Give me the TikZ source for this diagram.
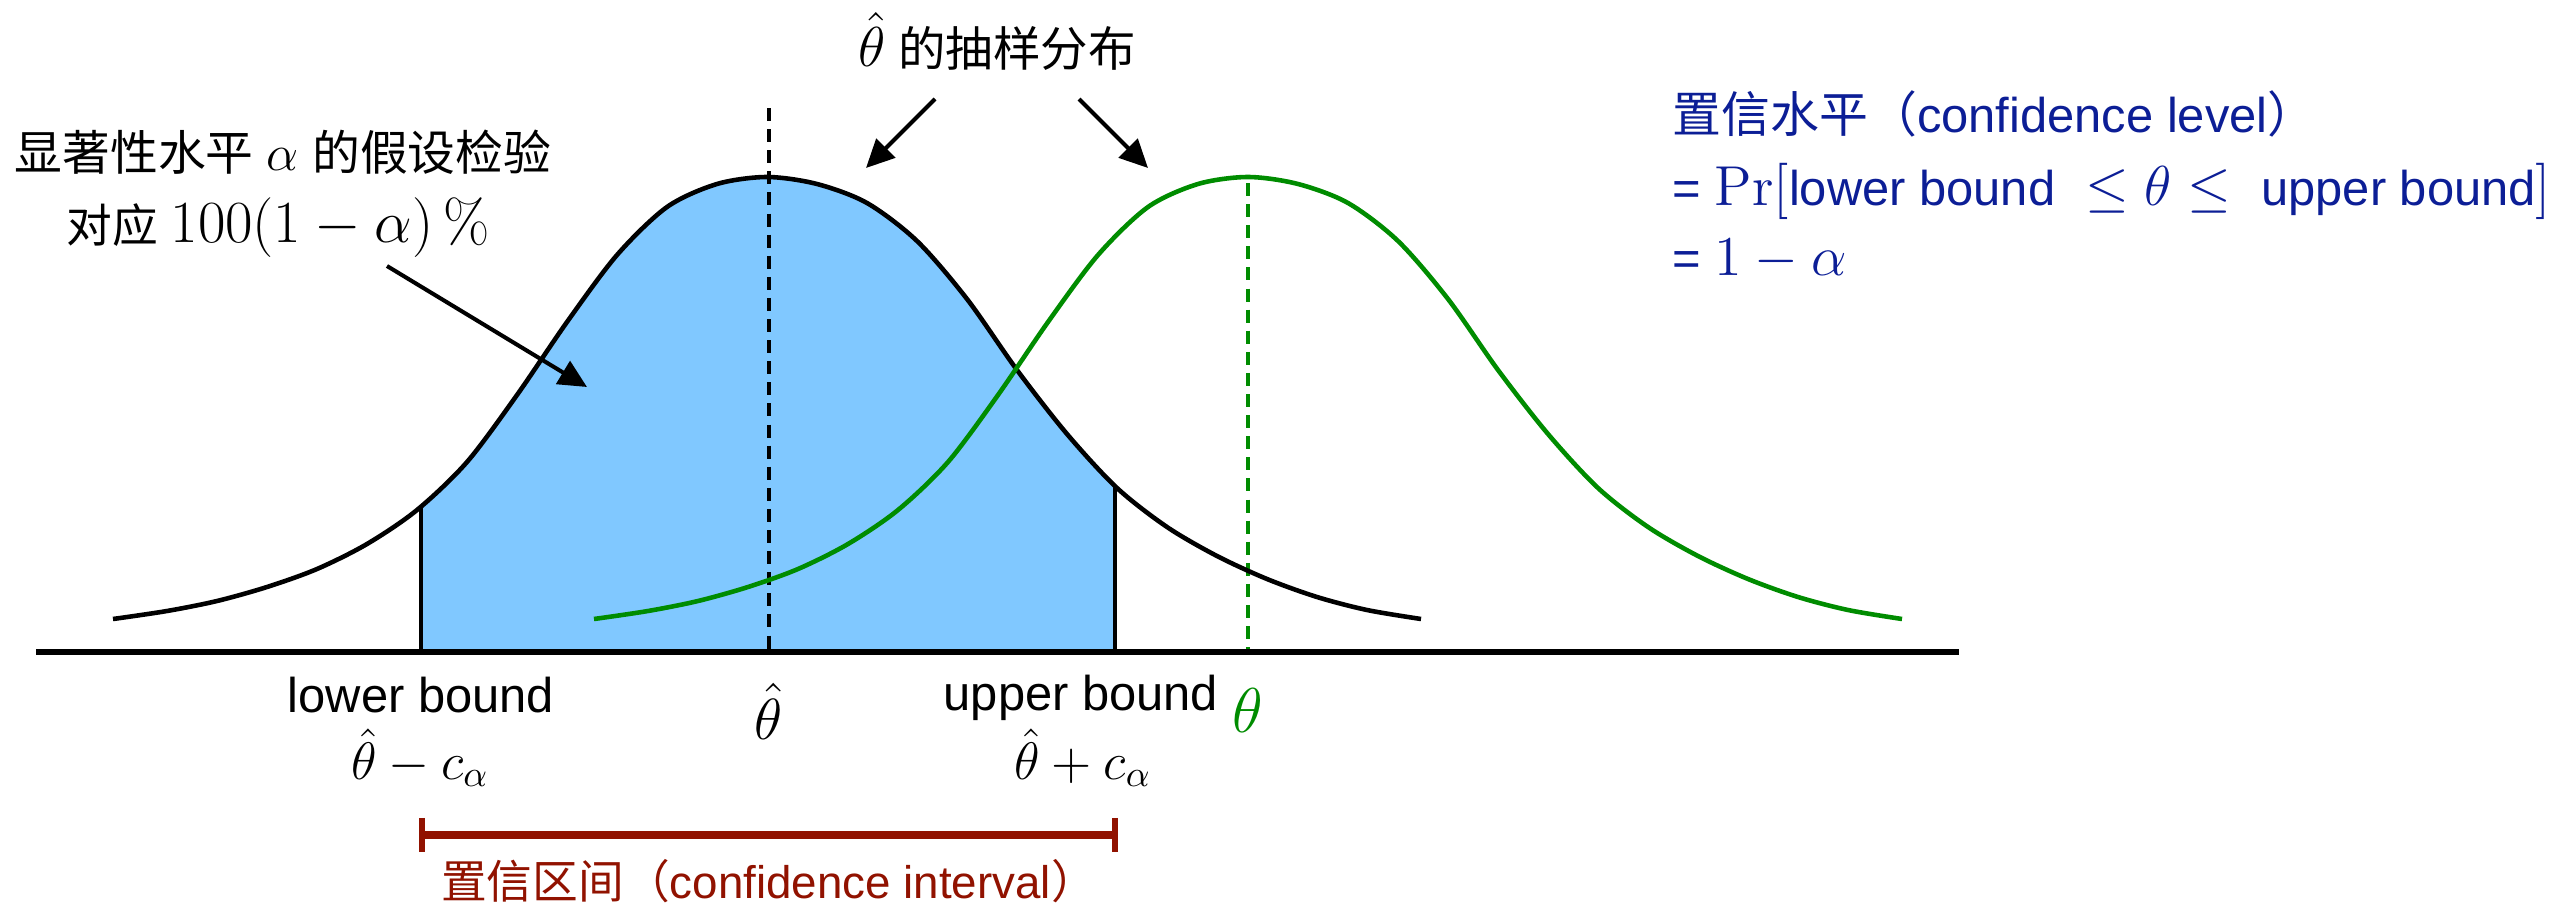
\RequirePackage{fix-cm}
\documentclass[tikz,border=0pt]{standalone}
\usepackage[no-math]{fontspec}
\setmainfont{Liberation Sans}
\newfontfamily\cjk{Noto Sans CJK SC}
\usetikzlibrary{arrows.meta}
\definecolor{fillblue}{RGB}{128,200,255}
\definecolor{curvegreen}{RGB}{0,140,0}
\definecolor{textblue}{RGB}{12,30,150}
\definecolor{ciRed}{RGB}{145,18,0}
\newcommand\mth[2]{{\fontsize{#1}{#1}\selectfont$#2$}}
\tikzset{
  bellcurve/.style={line width=1.3pt, line join=round},
  bndline/.style={line width=0.9pt},
  axisline/.style={line width=1.45pt},
  dashline/.style={line width=1pt, dash pattern=on 3.7pt off 2.3pt},
  ptr/.style={line width=1.15pt, -{Triangle[length=8pt,width=7.5pt]}},
  lbl/.style={inner sep=0pt, font=\fontsize{13.9}{16}\selectfont},
}
\newcommand\blackbell{plot[smooth,tension=0.5] coordinates {(113,619) (167,611) (217,601) (267,587) (317,569) (367,544) (417,510) (467,462) (517,395) (567,322) (617,255) (667,207) (717,184) (767,177) (817,184) (867,203) (917,241) (967,299) (1017,370) (1067,434) (1117,488) (1167,527) (1217,556) (1267,579) (1317,597) (1367,610) (1421,619)}}
\begin{document}
\begin{tikzpicture}
\begin{scope}[x=0.01cm,y=-0.01cm]
\useasboundingbox (0,0) rectangle (2575,903);
% shaded area and bound lines, clipped to the region under the black curve
\begin{scope}
  \clip \blackbell -- (1421,652) -- (113,652) -- cycle;
  \fill[fillblue] (421,0) rectangle (1115,652);
  \coordinate (lbB) at (421,652);
  \coordinate (ubB) at (1115,652);
  \draw[bndline] (lbB) -- ++(0,-300);
  \draw[bndline] (ubB) -- ++(0,-300);
\end{scope}
% dashed centre lines
\coordinate (thT) at (769,108);
\coordinate (thB) at (769,652);
\coordinate (gT) at (1248,183);
\coordinate (gB) at (1248,652);
\draw[dashline] (thT) -- (thB);
\draw[dashline, curvegreen] (gT) -- (gB);
% curves
\draw[bellcurve] \blackbell;
\draw[bellcurve, curvegreen] plot[smooth,tension=0.5] coordinates {(594,619) (648,611) (698,601) (748,587) (798,569) (848,544) (898,510) (948,462) (998,395) (1048,322) (1098,255) (1148,207) (1198,184) (1248,177) (1298,184) (1348,203) (1398,241) (1448,299) (1498,370) (1548,434) (1598,488) (1648,527) (1698,556) (1748,579) (1798,597) (1848,610) (1902,619)};
% axis
\coordinate (axL) at (36,652);
\coordinate (axR) at (1959,652);
\draw[axisline] (axL) -- (axR);
% left annotation
\node[lbl, font=\fontsize{13.6}{16}\selectfont, anchor=base] (sig1) at (283,170) {{\cjk 显著性水平} \mth{14.5}{\alpha} {\cjk 的假设检验}};
\node[lbl, font=\fontsize{13}{16}\selectfont, anchor=base] (sig2) at (278,242) {{\cjk 对应} \mth{17}{100(1-\alpha)\,\%}};
\coordinate (a1s) at (387,266);
\coordinate (a1e) at (587,387);
\draw[ptr] (a1s) -- (a1e);
% top annotation
\node[lbl, font=\fontsize{13.5}{16}\selectfont, anchor=base] (samp) at (997,66) {\mth{16}{\hat\theta} {\cjk 的抽样分布}};
\coordinate (a2s) at (935,99);
\coordinate (a2e) at (866,168);
\coordinate (a3s) at (1079,99);
\coordinate (a3e) at (1148,168);
\draw[ptr] (a2s) -- (a2e);
\draw[ptr] (a3s) -- (a3e);
% axis labels
\node[lbl, anchor=base] (lbt) at (421,712) {lower bound};
\node[lbl, anchor=base] (lbm) at (420,779) {\mth{15}{\hat\theta - c_\alpha}};
\node[lbl, anchor=base] (thh) at (769,739) {\mth{16.5}{\hat\theta}};
\node[lbl, anchor=base] (ubt) at (1081,710) {upper bound};
\node[lbl, anchor=base] (ubm) at (1083,779) {\mth{15}{\hat\theta + c_\alpha}};
\node[lbl, anchor=base, text=curvegreen] (gth) at (1248,732) {\mth{18}{\theta}};
% confidence interval bar
\coordinate (ciL) at (422,835);
\coordinate (ciR) at (1115,835);
\draw[ciRed, line width=2pt] (ciL) -- (ciR);
\draw[ciRed, line width=1.5pt] ([yshift=0.17cm]ciL) -- ([yshift=-0.17cm]ciL);
\draw[ciRed, line width=1.5pt] ([yshift=0.17cm]ciR) -- ([yshift=-0.17cm]ciR);
\node[lbl, font=\fontsize{13}{16}\selectfont, anchor=base, text=ciRed] (cilbl) at (769,898) {{\cjk 置信区间（}confidence interval{\cjk ）}};
% confidence level text
\node[lbl, anchor=base west, text=textblue] (cl1) at (1672,133) {{\cjk 置信水平（}confidence level{\cjk ）}};
\node[lbl, anchor=base west, text=textblue] (cl2) at (1672,205) {= \mth{16}{\Pr[}lower bound\hspace{0.3cm}\mth{16}{{\leq}\;\theta\;{\leq}}\hspace{0.3cm}upper bound\mth{16}{]}};
\node[lbl, anchor=base west, text=textblue] (cl3) at (1672,275) {= \mth{16}{1-\alpha}};
\end{scope}
\end{tikzpicture}
\end{document}
